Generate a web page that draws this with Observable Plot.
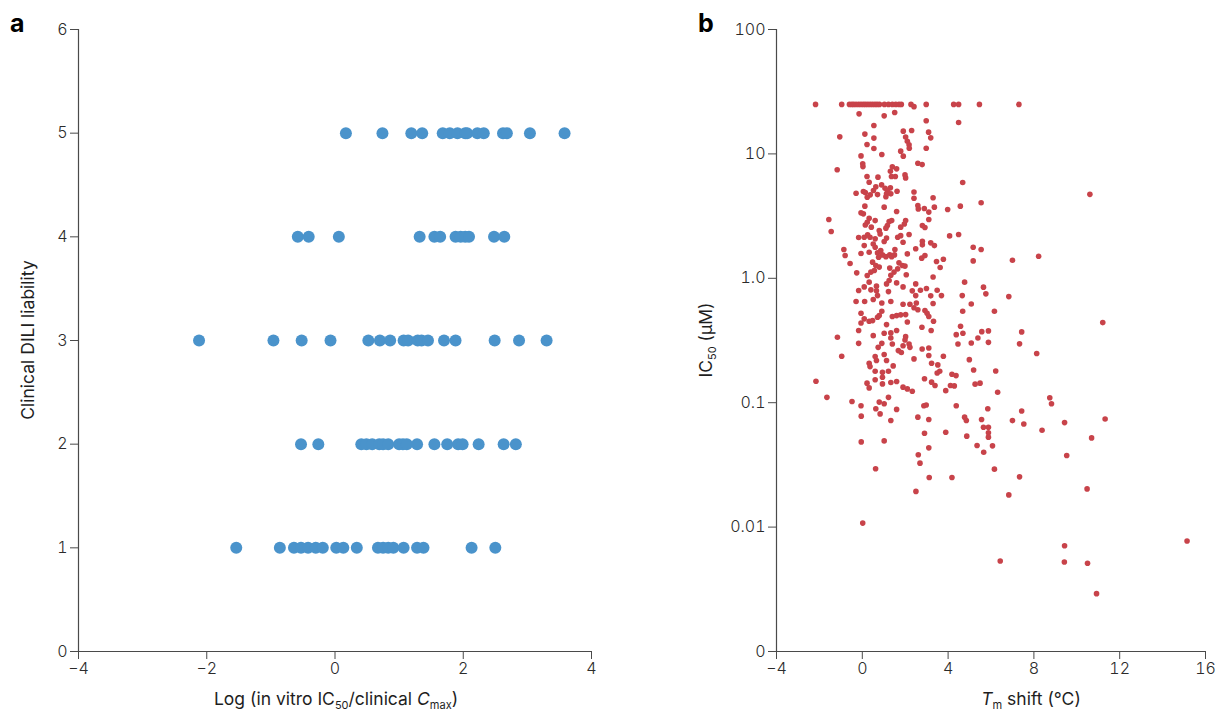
<!DOCTYPE html>
<html>
<head>
<meta charset="utf-8">
<script src="https://cdn.jsdelivr.net/npm/d3@7"></script>
<script src="https://cdn.jsdelivr.net/npm/@observablehq/plot@0.6"></script>
<style>
  html, body { margin: 0; padding: 0; background: #fff; }
  #wrap { position: relative; width: 1231px; height: 719px; overflow: hidden; font-family: Inter, "Noto Sans", sans-serif; }
  #wrap svg { position: absolute; top: 0; overflow: visible; }
  .panel-letter { position: absolute; font: 700 25px Inter, "Noto Sans", sans-serif; color: #000; }
</style>
</head>
<body>
<div id="wrap">
  <div class="panel-letter" style="left:10px; top:8px;">a</div>
  <div class="panel-letter" style="left:698px; top:8px;">b</div>
</div>
<script>
// ---------- Panel a: Log(in vitro IC50 / clinical Cmax) by clinical DILI liability ----------
const diliLevels = [1, 2, 3, 4, 5];
const ratioDili5 = [0.17, 0.74, 1.19, 1.36, 1.68, 1.79, 1.91, 2.03, 2.06, 2.22, 2.32, 2.62, 2.68, 3.04, 3.58];
const ratioDili4 = [-0.58, -0.41, 0.06, 1.32, 1.55, 1.64, 1.88, 1.96, 2.03, 2.09, 2.48, 2.64];
const ratioDili3 = [-2.12, -0.96, -0.52, -0.07, 0.52, 0.70, 0.86, 1.07, 1.14, 1.29, 1.35, 1.45, 1.70, 1.88, 2.49, 2.87, 3.30];
const ratioDili2 = [-0.53, -0.26, 0.41, 0.49, 0.58, 0.69, 0.75, 0.83, 1.00, 1.06, 1.12, 1.28, 1.55, 1.75, 1.92, 1.99, 2.24, 2.63, 2.82];
const ratioDili1 = [-1.54, -0.86, -0.64, -0.53, -0.42, -0.30, -0.19, 0.02, 0.13, 0.34, 0.67, 0.75, 0.83, 0.91, 1.07, 1.28, 1.38, 2.13, 2.50];
const xTicksA = [-4, -2, 0, 2, 4];
const yTicksA = [0, 1, 2, 3, 4, 5, 6];

// ---------- Panel b: IC50 (uM) vs Tm shift (degC) ----------
// compounds capped at the top concentration (25 uM)
const cappedIC50 = 25;
const cappedTm = [-2.18, -0.96, -0.60, -0.49, -0.40, -0.29, -0.17, -0.06, 0.05, 0.15, 0.26, 0.37, 0.48, 0.59,
  0.69, 0.80, 1.03, 1.22, 1.40, 1.56, 1.71, 1.82, 2.27, 2.98, 4.26, 4.49, 5.46, 7.30];
// [Tm shift, log10(IC50 in uM)]
const pointsB = [
  [2.41, 1.380],
  [-0.15, 1.322], [1.02, 1.306], [1.51, 1.333], [2.98, 1.266], [4.49, 1.252], [0.54, 1.228], [-1.05, 1.137], [0.12, 1.159], [0.54, 1.127], [1.91, 1.183],
  [2.30, 1.188], [3.09, 1.175], [2.02, 1.135], [3.19, 1.129], [2.10, 1.102], [2.18, 1.073], [2.19, 1.046], [0.22, 1.075], [0.54, 1.043], [2.98, 1.046],
  [1.79, 1.022], [1.91, 0.982], [-0.06, 0.984], [0.91, 0.995], [0.02, 0.920], [0.03, 0.898], [-1.17, 0.872], [2.59, 0.925], [2.79, 0.914], [1.40, 0.896],
  [1.60, 0.880], [1.31, 0.861], [0.22, 0.818], [0.73, 0.813], [1.36, 0.818], [1.54, 0.818], [1.99, 0.831], [2.02, 0.807], [4.68, 0.770], [0.32, 0.772],
  [0.90, 0.751], [0.63, 0.735], [1.06, 0.724], [1.31, 0.727], [0.52, 0.706], [1.17, 0.706], [-0.29, 0.684], [0.05, 0.698], [0.14, 0.690], [0.37, 0.671],
  [0.71, 0.673], [1.13, 0.679], [1.33, 0.679], [1.62, 0.700], [2.41, 0.694], [0.23, 0.651], [1.10, 0.656], [2.41, 0.643], [3.30, 0.648],
  [5.54, 0.607], [2.59, 0.585], [2.61, 0.558], [2.89, 0.561], [3.10, 0.532], [3.36, 0.572], [3.98, 0.553], [4.57, 0.580], [0.12, 0.580], [1.02, 0.572],
  [1.60, 0.537], [-0.06, 0.526], [0.05, 0.518], [-1.56, 0.473], [-1.45, 0.376], [0.32, 0.483], [0.23, 0.451], [0.60, 0.464], [0.14, 0.429], [0.42, 0.411],
  [1.25, 0.456], [1.37, 0.464], [1.17, 0.424], [1.10, 0.403], [2.02, 0.464], [1.96, 0.437], [1.79, 0.411], [3.10, 0.473], [2.80, 0.424], [2.92, 0.408],
  [0.79, 0.384], [0.83, 0.357], [-0.17, 0.328], [0.09, 0.330], [0.25, 0.349], [0.36, 0.330], [0.60, 0.317], [1.13, 0.323], [1.02, 0.296], [1.65, 0.330],
  [1.79, 0.343], [2.18, 0.352], [1.90, 0.290], [2.80, 0.298], [2.80, 0.269], [3.19, 0.285], [3.36, 0.263], [4.07, 0.341], [4.49, 0.352], [-0.86, 0.232],
  [-0.80, 0.183], [-0.06, 0.199], [0.09, 0.263], [0.51, 0.276], [0.60, 0.250], [0.86, 0.223], [0.32, 0.210], [0.71, 0.204], [0.94, 0.188], [0.76, 0.169],
  [1.10, 0.174], [1.28, 0.188], [1.52, 0.232], [1.37, 0.174], [1.50, 0.188], [2.10, 0.196], [2.49, 0.237], [2.77, 0.162], [2.92, 0.183], [3.46, 0.135],
  [3.78, 0.153], [5.17, 0.250], [5.54, 0.232], [5.17, 0.140], [-0.57, 0.119], [0.48, 0.130], [0.63, 0.103], [0.79, 0.090], [0.56, 0.063], [0.40, 0.050],
  [1.28, 0.082], [1.71, 0.124], [1.87, 0.103], [1.99, 0.098], [1.65, 0.076], [1.48, 0.050], [1.33, 0.024], [2.05, 0.029], [3.63, 0.087], [-0.26, 0.044],
  [0.23, 0.023], [3.30, 0.011], [1.25, -0.018], [1.13, -0.045], [1.60, -0.037], [1.90, -0.069], [0.32, -0.031], [0.09, -0.069], [0.66, -0.063], [0.40, -0.093],
  [0.66, -0.101], [-0.17, -0.098], [2.49, -0.045], [2.49, -0.139], [2.33, -0.101], [2.71, -0.096], [2.99, -0.082], [3.49, -0.096], [3.19, -0.141], [3.69, -0.139],
  [4.77, -0.031], [5.65, -0.071], [5.76, -0.125], [4.66, -0.139], [-0.29, -0.187], [0.11, -0.187], [0.71, -0.139], [0.51, -0.171], [1.22, -0.107], [1.33, -0.187],
  [0.91, -0.198], [1.90, -0.209], [2.22, -0.209], [2.52, -0.198], [3.30, -0.203], [5.08, -0.206],
  [2.41, -0.237], [2.59, -0.253], [2.92, -0.259], [3.02, -0.281], [3.10, -0.307], [3.32, -0.345], [4.68, -0.265], [6.16, -0.265], [-0.06, -0.281], [0.91, -0.265],
  [0.79, -0.300], [0.71, -0.313], [0.09, -0.326], [-0.06, -0.359], [0.32, -0.345], [0.48, -0.340], [1.13, -0.372], [1.40, -0.307], [1.60, -0.300], [1.79, -0.294],
  [2.02, -0.292], [2.10, -0.351], [-0.17, -0.420], [0.51, -0.461], [1.02, -0.442], [1.33, -0.439], [1.60, -0.420], [2.78, -0.393], [3.21, -0.420], [4.58, -0.385],
  [4.38, -0.453], [4.69, -0.442], [5.57, -0.429], [5.88, -0.423], [5.39, -0.480], [5.08, -0.520], [5.88, -0.515], [4.46, -0.528], [-1.16, -0.474], [-0.17, -0.523],
  [0.91, -0.523], [0.74, -0.555], [1.33, -0.480], [1.40, -0.528], [2.02, -0.469], [1.99, -0.496], [1.90, -0.542], [2.18, -0.528], [2.22, -0.555], [1.68, -0.581],
  [1.82, -0.597], [2.79, -0.568], [3.10, -0.560], [3.10, -0.621], [-0.96, -0.627], [0.60, -0.629], [1.02, -0.613], [0.66, -0.661], [1.13, -0.661], [2.41, -0.648],
  [3.78, -0.627], [4.99, -0.654], [0.32, -0.683], [0.36, -0.710], [1.44, -0.704], [3.23, -0.683], [3.52, -0.696], [5.19, -0.737], [6.22, -0.745], [0.60, -0.747],
  [0.94, -0.755], [1.22, -0.747], [0.94, -0.795], [3.49, -0.761], [3.61, -0.747], [4.18, -0.771], [4.37, -0.782], [-2.16, -0.827], [0.60, -0.816], [1.33, -0.838],
  [1.60, -0.830], [0.22, -0.843], [0.32, -0.881], [0.94, -0.849], [2.90, -0.808], [3.23, -0.835], [3.39, -0.862], [4.11, -0.862], [4.29, -0.865], [3.89, -0.903],
  [5.26, -0.851], [5.49, -0.843], [6.31, -0.916], [1.90, -0.875], [2.10, -0.889], [2.33, -0.908], [-1.65, -0.957], [-0.48, -0.990], [-0.06, -1.024], [0.79, -0.995],
  [1.02, -1.008], [1.22, -0.957], [0.63, -1.049], [1.60, -1.054], [2.87, -1.024], [2.98, -1.019], [4.38, -1.024], [5.85, -1.049],
  [-0.05, -1.108], [0.83, -1.090], [1.33, -1.143], [2.59, -1.116], [3.10, -1.135], [4.77, -1.116], [4.85, -1.143], [5.56, -1.135], [5.65, -1.197], [5.88, -1.197],
  [5.88, -1.242], [5.88, -1.277], [2.90, -1.245], [3.89, -1.237], [4.87, -1.269], [-0.05, -1.315], [1.02, -1.307], [3.10, -1.363], [5.35, -1.344], [6.07, -1.347],
  [5.66, -1.398], [2.61, -1.419], [2.69, -1.486], [0.62, -1.531], [6.16, -1.534], [3.12, -1.601], [4.18, -1.601], [2.50, -1.713],
  [10.61, 0.675], [11.21, -0.356], [8.22, 0.177], [7.00, 0.145], [6.83, -0.147], [7.43, -0.431], [7.33, -0.527], [8.13, -0.605], [8.74, -0.960], [8.82, -1.008],
  [9.43, -1.160], [11.32, -1.131], [10.69, -1.283], [9.53, -1.425], [8.38, -1.222], [7.00, -1.144], [7.53, -1.171], [7.43, -1.067], [7.33, -1.596], [6.83, -1.741],
  [10.48, -1.693], [9.43, -2.150], [9.42, -2.281], [10.50, -2.291], [10.92, -2.535], [15.14, -2.112], [6.43, -2.273], [0.02, -1.968]
];
const xTicksB = [-4, 0, 4, 8, 12, 16];
const yTicksB = [0.001, 0.01, 0.1, 1, 10, 100];
const yTickLabelsB = ["0", "0.01", "0.1", "1.0", "10", "100"];

// ---------- build tables ----------
const tableA = [
  ...ratioDili1.map(v => ({ratio: v, dili: diliLevels[0]})),
  ...ratioDili2.map(v => ({ratio: v, dili: diliLevels[1]})),
  ...ratioDili3.map(v => ({ratio: v, dili: diliLevels[2]})),
  ...ratioDili4.map(v => ({ratio: v, dili: diliLevels[3]})),
  ...ratioDili5.map(v => ({ratio: v, dili: diliLevels[4]}))
];
const tableB = [
  ...cappedTm.map(t => ({tm: t, ic50: cappedIC50})),
  ...pointsB.map(([t, e]) => ({tm: t, ic50: Math.pow(10, e)}))
];

const axisColor = "#4a4a4a";
const textColor = "#2b2b2b";
const baseStyle = {fontFamily: "Inter, 'Noto Sans', sans-serif", fontSize: "16px", fontWeight: 300, color: textColor, background: "transparent", overflow: "visible"};
const intFmt = d => (d < 0 ? "\u2212" + Math.abs(d) : String(d));

const plotA = Plot.plot({
  width: 620, height: 719,
  marginLeft: 78, marginRight: 29, marginTop: 29, marginBottom: 68,
  style: baseStyle,
  x: {domain: [-4, 4]},
  y: {domain: [0, 6]},
  marks: [
    Plot.axisX({ticks: xTicksA, tickSize: 8, tickPadding: 3, label: null, stroke: axisColor, fill: textColor, tickFormat: intFmt}),
    Plot.axisY({ticks: yTicksA, tickSize: 8, tickPadding: 3, label: null, stroke: axisColor, fill: textColor, tickFormat: intFmt}),
    Plot.ruleX([-4], {stroke: axisColor, strokeWidth: 1.2}),
    Plot.ruleY([0], {stroke: axisColor, strokeWidth: 1.2}),
    Plot.dot(tableA, {x: "ratio", y: "dili", r: 6, fill: "#4a93cb", stroke: "none"})
  ]
});

const plotB = Plot.plot({
  width: 541, height: 719,
  marginLeft: 86, marginRight: 26, marginTop: 29, marginBottom: 68,
  style: baseStyle,
  x: {domain: [-4, 16]},
  y: {type: "log", domain: [0.001, 100]},
  marks: [
    Plot.axisX({ticks: xTicksB, tickSize: 8, tickPadding: 3, label: null, stroke: axisColor, fill: textColor, tickFormat: intFmt}),
    Plot.axisY({ticks: yTicksB, tickSize: 8, tickPadding: 3, label: null, stroke: axisColor, fill: textColor,
      tickFormat: d => yTickLabelsB[yTicksB.findIndex(t => Math.abs(Math.log10(t) - Math.log10(d)) < 1e-6)]}),
    Plot.ruleX([-4], {stroke: axisColor, strokeWidth: 1.2}),
    Plot.ruleY([0.001], {stroke: axisColor, strokeWidth: 1.2}),
    Plot.dot(tableB, {x: "tm", y: "ic50", r: 2.8, fill: "#c8434a", stroke: "none"})
  ]
});

const wrap = document.getElementById("wrap");
plotA.style.left = "0px";
plotB.style.left = "690px";
wrap.appendChild(plotA);
wrap.appendChild(plotB);

// ---------- axis titles with sub/superscripts ----------
function title(svg, x, y, rotate, parts) {
  const t = d3.select(svg).append("text")
    .attr("transform", `translate(${x},${y})` + (rotate ? " rotate(-90)" : ""))
    .attr("text-anchor", "middle")
    .attr("font-family", "Inter, 'Noto Sans', sans-serif")
    .attr("font-size", 17.5)
    .attr("font-weight", 400)
    .attr("fill", "#1e1e1e");
  let shift = 0;
  for (const p of parts) {
    const s = t.append("tspan").text(p.text);
    const want = p.sub ? 4 : 0;
    if (want !== shift) { s.attr("dy", want - shift); shift = want; }
    if (p.sub) s.attr("font-size", 11);
    if (p.italic) s.attr("font-style", "italic");
  }
}
title(plotA, 336, 705, false, [
  {text: "Log (in vitro IC"}, {text: "50", sub: true}, {text: "/clinical "}, {text: "C", italic: true}, {text: "max", sub: true}, {text: ")"}
]);
title(plotA, 34, 340, true, [{text: "Clinical DILI liability"}]);
title(plotB, 1031 - 690, 705, false, [
  {text: "T", italic: true}, {text: "m", sub: true}, {text: " shift (°C)"}
]);
title(plotB, 22, 340, true, [
  {text: "IC"}, {text: "50", sub: true}, {text: " (μM)"}
]);
</script>
</body>
</html>
